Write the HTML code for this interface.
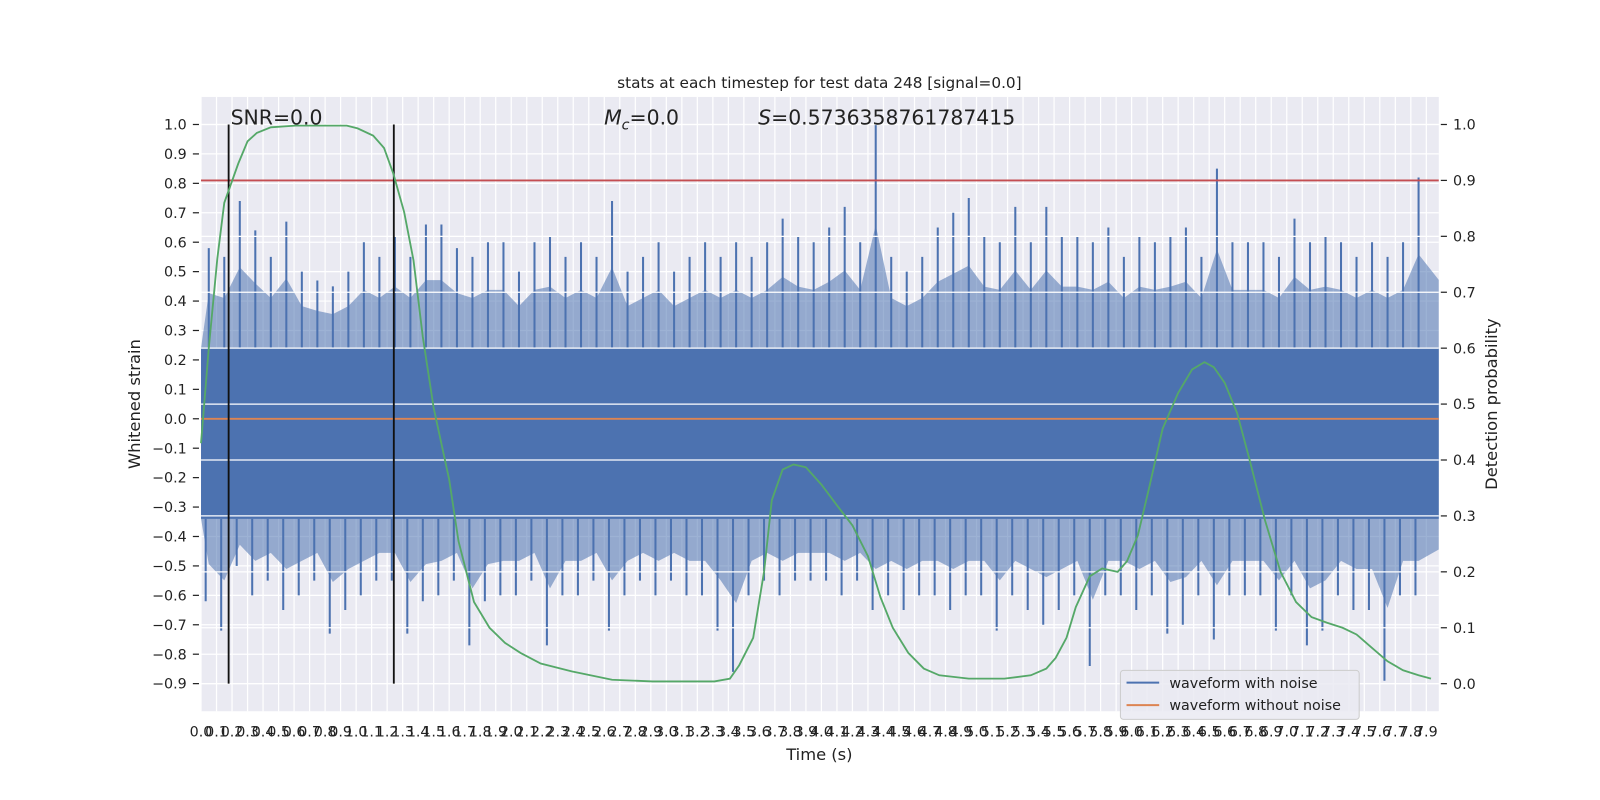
<!DOCTYPE html>
<html><head><meta charset="utf-8"><style>
html,body{margin:0;padding:0;background:#fff;width:1600px;height:800px;overflow:hidden;}
svg{display:block;font-family:"DejaVu Sans","Liberation Sans",sans-serif;}
</style></head><body>
<svg id="chart" width="1600" height="800" viewBox="0 0 1568 784" xmlns="http://www.w3.org/2000/svg">
<rect x="0" y="0" width="1568" height="784" fill="#fff"/>
<rect x="197" y="95" width="1213" height="602" fill="#eaeaf2"/>
<g id="grid"></g>
<g id="noise"></g>
<g id="rgrid"></g>
<g id="overlay"></g>
<g id="axes"></g>
<text x="803" y="86" font-size="15" text-anchor="middle" fill="#222">stats at each timestep for test data 248 [signal=0.0]</text>
<text x="226" y="122" font-size="20" fill="#222">SNR=0.0</text>
<text x="592" y="122" font-size="20" fill="#222"><tspan font-style="italic">M</tspan><tspan font-style="italic" font-size="14" dy="5">c</tspan><tspan dy="-5">=0.0</tspan></text>
<text x="743" y="122" font-size="20" fill="#222"><tspan font-style="italic">S</tspan>=0.5736358761787415</text>
<text x="803" y="745" font-size="16" text-anchor="middle" fill="#222">Time (s)</text>
<text transform="translate(137,396) rotate(-90)" font-size="16" text-anchor="middle" fill="#222">Whitened strain</text>
<text transform="translate(1467,396) rotate(-90)" font-size="16" text-anchor="middle" fill="#222">Detection probability</text>
<g>
<rect x="1098" y="657" width="234" height="48" rx="3" fill="#eaeaf2" fill-opacity="0.85" stroke="#ccc"/>
<line x1="1104" y1="669" x2="1136" y2="669" stroke="#4c72b0" stroke-width="2"/>
<text x="1146" y="674" font-size="14" fill="#222">waveform with noise</text>
<line x1="1104" y1="691" x2="1136" y2="691" stroke="#dd8452" stroke-width="2"/>
<text x="1146" y="696" font-size="14" fill="#222">waveform without noise</text>
</g>
</svg>
<script>
const noiseMax=[0.58,0.55,0.74,0.64,0.55,0.67,0.5,0.47,0.45,0.5,0.6,0.55,0.62,0.55,0.66,0.66,0.58,0.55,0.6,0.6,0.5,0.6,0.62,0.55,0.6,0.55,0.74,0.5,0.55,0.6,0.5,0.55,0.6,0.55,0.6,0.55,0.6,0.68,0.62,0.6,0.65,0.72,0.6,1.0,0.55,0.5,0.55,0.65,0.7,0.75,0.62,0.6,0.72,0.6,0.72,0.62,0.62,0.6,0.65,0.55,0.62,0.6,0.62,0.65,0.55,0.85,0.6,0.6,0.6,0.55,0.68,0.6,0.62,0.6,0.55,0.6,0.55,0.6,0.82];
const noiseMin=[-0.62,-0.72,-0.5,-0.6,-0.55,-0.65,-0.6,-0.55,-0.73,-0.65,-0.6,-0.55,-0.55,-0.73,-0.62,-0.6,-0.55,-0.77,-0.62,-0.6,-0.6,-0.55,-0.77,-0.6,-0.6,-0.55,-0.72,-0.6,-0.55,-0.6,-0.55,-0.6,-0.6,-0.72,-0.86,-0.6,-0.55,-0.6,-0.55,-0.55,-0.55,-0.6,-0.55,-0.65,-0.6,-0.65,-0.6,-0.6,-0.65,-0.6,-0.6,-0.72,-0.6,-0.65,-0.7,-0.65,-0.6,-0.84,-0.6,-0.6,-0.65,-0.6,-0.73,-0.7,-0.6,-0.75,-0.6,-0.6,-0.6,-0.72,-0.6,-0.77,-0.72,-0.6,-0.65,-0.65,-0.89,-0.6,-0.6];
const coreTop=0.24, coreBot=-0.34;
const probT=[0,0.05,0.105,0.15,0.24,0.30,0.36,0.45,0.61,0.94,1.01,1.11,1.18,1.24,1.31,1.37,1.43,1.5,1.6,1.66,1.76,1.86,1.96,2.06,2.19,2.39,2.65,2.91,3.31,3.41,3.47,3.56,3.63,3.68,3.75,3.82,3.9,4.0,4.1,4.2,4.3,4.38,4.46,4.56,4.66,4.76,4.95,5.18,5.35,5.45,5.51,5.58,5.64,5.73,5.81,5.91,5.97,6.04,6.11,6.2,6.3,6.39,6.47,6.53,6.6,6.68,6.76,6.86,6.96,7.06,7.16,7.26,7.36,7.45,7.55,7.65,7.75,7.85,7.93];
const probV=[0.43,0.60,0.76,0.86,0.93,0.97,0.985,0.995,0.998,0.998,0.993,0.98,0.958,0.912,0.843,0.757,0.62,0.493,0.365,0.255,0.146,0.10,0.073,0.055,0.036,0.022,0.007,0.004,0.004,0.009,0.033,0.082,0.20,0.328,0.383,0.392,0.387,0.356,0.319,0.283,0.228,0.155,0.10,0.055,0.027,0.015,0.009,0.009,0.015,0.027,0.046,0.082,0.137,0.192,0.206,0.20,0.219,0.265,0.347,0.456,0.52,0.562,0.575,0.566,0.538,0.484,0.401,0.292,0.20,0.146,0.119,0.109,0.10,0.088,0.064,0.04,0.024,0.015,0.009];
const leftTicks=[1.0,0.9,0.8,0.7,0.6,0.5,0.4,0.3,0.2,0.1,0.0,-0.1,-0.2,-0.3,-0.4,-0.5,-0.6,-0.7,-0.8,-0.9];
const rightTicks=[1.0,0.9,0.8,0.7,0.6,0.5,0.4,0.3,0.2,0.1,0.0];
const snrThreshold=0.81;
const eventStart=0.178, eventEnd=1.243;
const tEnd=7.98;

const NS='http://www.w3.org/2000/svg';
const X0=197,X1=1410,Y0=95,Y1=697;
const xs=t=>197+t*152;
const yl=v=>410.4-v*288.4;
const yr=p=>670-p*548;
function mk(tag,attrs,parent){const e=document.createElementNS(NS,tag);for(const k in attrs)e.setAttribute(k,attrs[k]);parent.appendChild(e);return e;}
const grid=document.getElementById('grid'),rgrid=document.getElementById('rgrid'),noise=document.getElementById('noise'),ov=document.getElementById('overlay'),axes=document.getElementById('axes');
for(let i=0;i<80;i++){const t=i/10;const x=xs(t);
 const g=mk('line',{x1:x,x2:x,y1:Y0,y2:Y1,stroke:'#fff','stroke-width':1.2},grid);
 
 
 const lb=mk('text',{x:x,y:722,'font-size':14,'text-anchor':'middle',fill:'#222'},axes);lb.textContent=t.toFixed(1);
 
 
}
leftTicks.forEach(v=>{const y=yl(v);
 const g=mk('line',{x1:X0,x2:X1,y1:y,y2:y,stroke:'#fff','stroke-width':1.2},grid);
 
 
 const tk=mk('line',{x1:189,x2:195,y1:y,y2:y,stroke:'#222','stroke-width':1.2},axes);
 
 
 const lb=mk('text',{x:183,y:y+5,'font-size':14,'text-anchor':'end',fill:'#222'},axes);lb.textContent=(v<0?'\u22120.'+Math.round(Math.abs(v)*10):v.toFixed(1));
 
 
});
rightTicks.forEach(v=>{const y=yr(v);
 const g=mk('line',{x1:X0,x2:X1,y1:y,y2:y,stroke:'#fff','stroke-width':1.2},rgrid);
 
 
 const tk=mk('line',{x1:1412,x2:1418,y1:y,y2:y,stroke:'#222','stroke-width':1.2},axes);
 
 
 const lb=mk('text',{x:1424,y:y+5,'font-size':14,fill:'#222'},axes);lb.textContent=v.toFixed(1);
 
 
});
let up='',dn='';
noiseMax.forEach((v,i)=>{up+=`${xs(i/10+0.05)},${yl(coreTop+(v-coreTop)*0.55)} `;});
for(let i=noiseMin.length-1;i>=0;i--){dn+=`${xs(i/10+0.05)},${yl(coreBot+(noiseMin[i]-coreBot)*0.55)} `;}
const lastUp=noiseMax[noiseMax.length-1], lastDn=noiseMin[noiseMin.length-1];
const env=mk('polygon',{points:`${X0},${yl(coreTop)} `+up+`${xs(tEnd)},${yl(coreTop+(lastUp-coreTop)*0.4)} ${xs(tEnd)},${yl(coreBot+(lastDn-coreBot)*0.4)} `+dn+`${X0},${yl(coreBot)}`,fill:'#4c72b0','fill-opacity':0.55},noise);


const core=mk('rect',{x:X0,y:yl(coreTop),width:xs(tEnd)-X0,height:yl(coreBot)-yl(coreTop),fill:'#4c72b0'},noise);


noiseMax.forEach((v,i)=>{const x=xs(i/10+0.05);
 const s=mk('line',{x1:x,x2:x,y1:yl(coreTop),y2:yl(v),stroke:'#4c72b0','stroke-width':2},noise);
 
 
});
noiseMin.forEach((v,i)=>{const x=xs(i/10+0.03);
 const s=mk('line',{x1:x,x2:x,y1:yl(coreBot),y2:yl(v),stroke:'#4c72b0','stroke-width':2},noise);
 
 
});
const ol=mk('line',{x1:X0,x2:X1,y1:yl(0),y2:yl(0),stroke:'#dd8452','stroke-width':1.8},ov);


const rl=mk('line',{x1:X0,x2:X1,y1:yl(snrThreshold),y2:yl(snrThreshold),stroke:'#c44e52','stroke-width':1.8},ov);


[eventStart,eventEnd].forEach(t=>{
 const l=mk('line',{x1:xs(t),x2:xs(t),y1:yl(1.0),y2:yl(-0.9),stroke:'#111','stroke-width':1.8},ov);
 
 
});
const pts=probT.map((t,i)=>`${xs(t)},${yr(probV[i])}`).join(' ');
const pl=mk('polyline',{points:pts,fill:'none',stroke:'#55a868','stroke-width':1.8},ov);


</script>
</body></html>
